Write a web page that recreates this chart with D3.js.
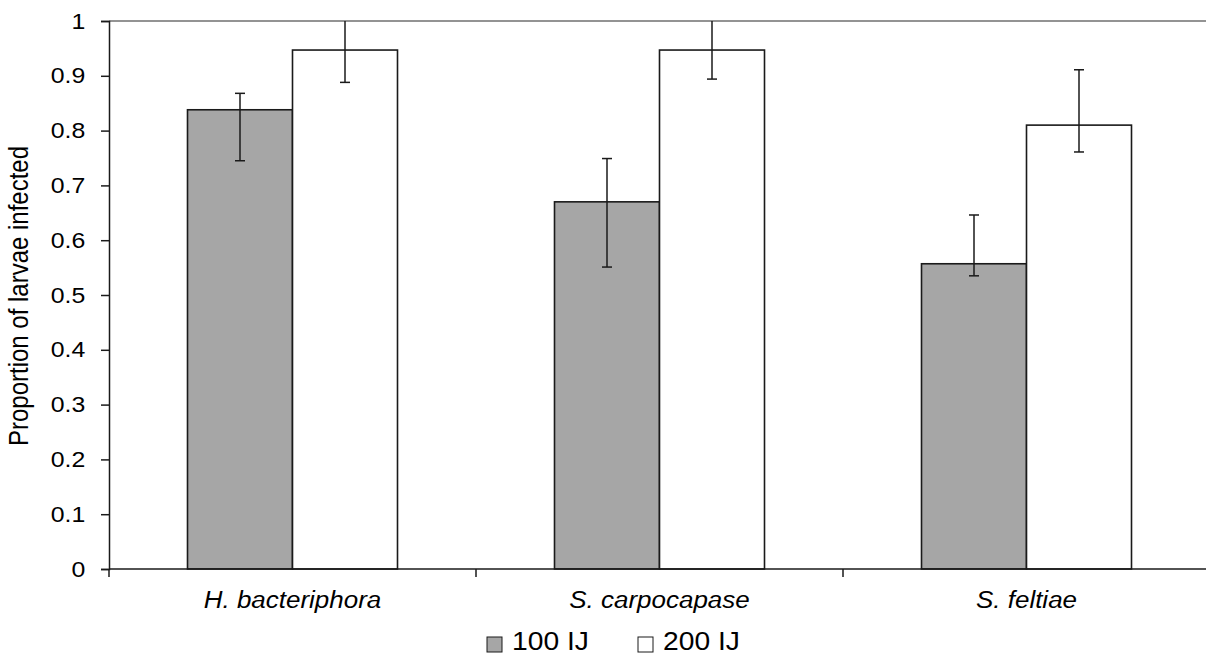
<!DOCTYPE html>
<html>
<head>
<meta charset="utf-8">
<script src="https://cdn.jsdelivr.net/npm/d3@7"></script>
<style>
  body { margin: 0; background: #fff; }
  svg { font-family: "Liberation Sans", Arial, sans-serif; }
</style>
</head>
<body>
<div id="chart"></div>
<script>
const categories = ["H. bacteriphora", "S. carpocapase", "S. feltiae"];
const series = ["100 IJ", "200 IJ"];
const seriesColors = ["#a6a6a6", "#ffffff"];
const values100 = [0.838, 0.670, 0.557];
const values200 = [0.947, 0.947, 0.810];
const errLow100 = [0.745, 0.551, 0.535];
const errHigh100 = [0.868, 0.749, 0.646];
const errLow200 = [0.888, 0.894, 0.761];
const errHigh200 = [1.006, 1.0, 0.911];
const yTicks = [0, 0.1, 0.2, 0.3, 0.4, 0.5, 0.6, 0.7, 0.8, 0.9, 1];

const width = 1206;
const height = 656;
const margin = { top: 21, left: 109, bottom: 87 };
const plotBottom = height - margin.bottom;
const groupStep = 367;
const stretch = 1.13; // text in the picture is a little wider than plain Arial

const svg = d3
  .select("#chart")
  .append("svg")
  .attr("width", width)
  .attr("height", height);

// scales
const x0 = d3
  .scaleBand()
  .domain(categories)
  .range([margin.left, margin.left + groupStep * categories.length])
  .padding(0);

const pairWidth = 210;
const x1 = d3
  .scaleBand()
  .domain(series)
  .range([(x0.bandwidth() - pairWidth) / 2, (x0.bandwidth() + pairWidth) / 2]);

const y = d3.scaleLinear().domain([0, 1]).range([plotBottom, margin.top]);

// top line at 1
svg
  .append("line")
  .attr("x1", margin.left)
  .attr("x2", width)
  .attr("y1", y(1))
  .attr("y2", y(1))
  .attr("stroke", "#6f6f6f")
  .attr("stroke-width", 1.5);

const rows = categories.map((c, i) => [
  { cat: c, s: series[0], v: values100[i], lo: errLow100[i], hi: errHigh100[i], color: seriesColors[0] },
  { cat: c, s: series[1], v: values200[i], lo: errLow200[i], hi: errHigh200[i], color: seriesColors[1] }
]).flat();

// bars
svg
  .append("g")
  .selectAll("rect")
  .data(rows)
  .join("rect")
  .attr("x", (d) => x0(d.cat) + x1(d.s))
  .attr("width", x1.bandwidth())
  .attr("y", (d) => y(d.v))
  .attr("height", (d) => y(0) - y(d.v))
  .attr("fill", (d) => d.color)
  .attr("stroke", "#1a1a1a")
  .attr("stroke-width", 1.6);

// error bars, clipped at 1
const clamp = (v) => Math.min(v, 1);
const cx = (d) => x0(d.cat) + x1(d.s) + x1.bandwidth() / 2;
const eg = svg.append("g").attr("stroke", "#1a1a1a").attr("stroke-width", 1.5);
eg.selectAll(".stem")
  .data(rows)
  .join("line")
  .attr("x1", cx)
  .attr("x2", cx)
  .attr("y1", (d) => y(d.lo))
  .attr("y2", (d) => y(clamp(d.hi)));
eg.selectAll(".capLo")
  .data(rows)
  .join("line")
  .attr("x1", (d) => cx(d) - 5)
  .attr("x2", (d) => cx(d) + 5)
  .attr("y1", (d) => y(d.lo))
  .attr("y2", (d) => y(d.lo));
eg.selectAll(".capHi")
  .data(rows.filter((d) => d.hi < 1))
  .join("line")
  .attr("x1", (d) => cx(d) - 5)
  .attr("x2", (d) => cx(d) + 5)
  .attr("y1", (d) => y(d.hi))
  .attr("y2", (d) => y(d.hi));

// y axis
const yAxis = svg
  .append("g")
  .attr("transform", `translate(${margin.left},0)`)
  .call(
    d3.axisLeft(y).tickValues(yTicks).tickSize(8).tickPadding(13)
      .tickFormat((d) => d3.format("~g")(d))
  );
yAxis.select(".domain").attr("stroke", "#1a1a1a").attr("stroke-width", 1.5);
yAxis.selectAll(".tick line").attr("stroke", "#1a1a1a").attr("stroke-width", 1.5);
yAxis.selectAll("text")
  .attr("font-size", 22)
  .attr("transform", `scale(${stretch},1)`)
  .attr("fill", "#000")
  .attr("font-family", "Liberation Sans, Arial, sans-serif");

// x axis
const xAxisLine = svg.append("g");
xAxisLine
  .append("line")
  .attr("x1", margin.left)
  .attr("x2", width)
  .attr("y1", y(0))
  .attr("y2", y(0))
  .attr("stroke", "#1a1a1a")
  .attr("stroke-width", 1.5);
xAxisLine
  .selectAll(".xt")
  .data(categories)
  .join("line")
  .attr("x1", (d) => x0(d))
  .attr("x2", (d) => x0(d))
  .attr("y1", y(0))
  .attr("y2", y(0) + 8)
  .attr("stroke", "#1a1a1a")
  .attr("stroke-width", 1.5);
xAxisLine
  .selectAll(".xl")
  .data(categories)
  .join("text")
  .attr("transform", (d) =>
    `translate(${x0(d) + x0.bandwidth() / 2},${y(0) + 39}) scale(${stretch},1)`)
  .attr("text-anchor", "middle")
  .attr("font-size", 23)
  .attr("font-style", "italic")
  .text((d) => d);

// y axis title
svg
  .append("text")
  .attr("transform",
    `translate(28,${(y(0) + y(1)) / 2 + 1}) rotate(-90) scale(1,${stretch})`)
  .attr("text-anchor", "middle")
  .attr("font-size", 24)
  .text("Proportion of larvae infected");

// legend
const legendX = [487, 638];
const legend = svg
  .append("g")
  .selectAll("g")
  .data(series)
  .join("g")
  .attr("transform", (d, i) => `translate(${legendX[i]},644)`);
legend
  .append("rect")
  .attr("x", 0)
  .attr("y", -7)
  .attr("width", 15)
  .attr("height", 15)
  .attr("fill", (d, i) => seriesColors[i])
  .attr("stroke", "#1a1a1a")
  .attr("stroke-width", 1);
legend
  .append("text")
  .attr("transform", `translate(25,6) scale(${stretch},1)`)
  .attr("font-size", 25)
  .text((d) => d);
</script>
</body>
</html>
